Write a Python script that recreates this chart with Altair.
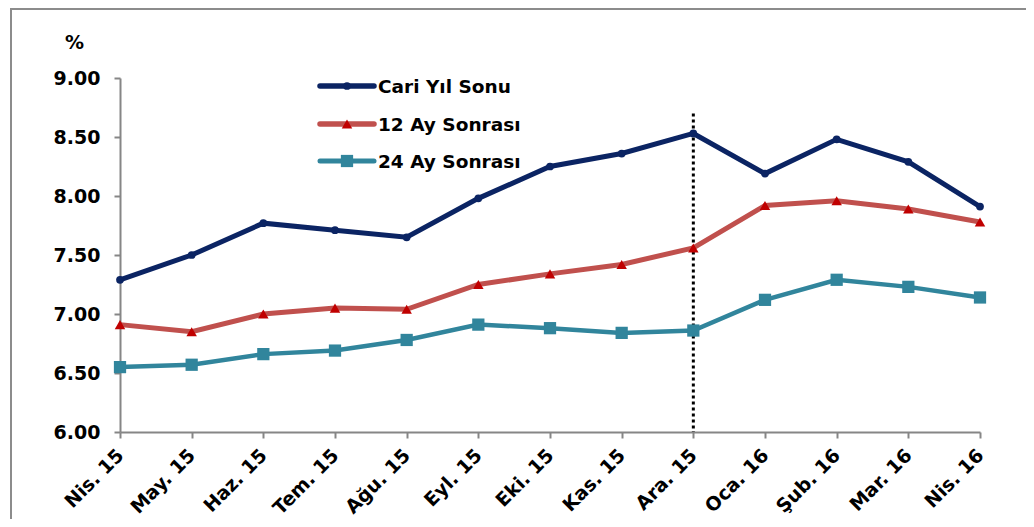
import altair as alt
import pandas as pd

months = ["Nis. 15", "May. 15", "Haz. 15", "Tem. 15", "Ağu. 15", "Eyl. 15", "Eki. 15",
          "Kas. 15", "Ara. 15", "Oca. 16", "Şub. 16", "Mar. 16", "Nis. 16"]
series = ["Cari Yıl Sonu", "12 Ay Sonrası", "24 Ay Sonrası"]
cari = [7.29, 7.50, 7.77, 7.71, 7.65, 7.98, 8.25, 8.36, 8.53, 8.19, 8.48, 8.29, 7.91]
ay12 = [6.91, 6.85, 7.00, 7.05, 7.04, 7.25, 7.34, 7.42, 7.56, 7.92, 7.96, 7.89, 7.78]
ay24 = [6.55, 6.57, 6.66, 6.69, 6.78, 6.91, 6.88, 6.84, 6.86, 7.12, 7.29, 7.23, 7.14]
line_colors = ["#0b2463", "#c0504d", "#31859c"]
marker_colors = ["#0b2463", "#c00000", "#31859c"]
shapes = ["circle", "triangle-up", "square"]
marker_sizes = [60, 110, 150]
line_widths = [5, 5, 4.5]
marker_line = "Ara. 15"
y_ticks = [6.0, 6.5, 7.0, 7.5, 8.0, 8.5, 9.0]

FONT = "DejaVu Sans"
W, H = 860, 354

frames = []
for s, vals in zip(series, [cari, ay12, ay24]):
    frames.append(pd.DataFrame({"Ay": months, "Deger": vals, "Seri": s}))
df = pd.concat(frames, ignore_index=True)

x_enc = alt.X("Ay:O", sort=months, scale=alt.Scale(type="point", padding=0),
              axis=alt.Axis(title=None, labelAngle=-45, labelFont=FONT, labelFontWeight="bold",
                            labelFontSize=19, labelColor="#000000", domainColor="#868686",
                            domainWidth=2, tickColor="#868686", tickWidth=2, tickSize=6,
                            labelPadding=14, labelAlign="right", labelBaseline="middle"))
y_scale = alt.Scale(domain=[6, 9], nice=False, zero=False)
y_enc = alt.Y("Deger:Q", scale=y_scale,
              axis=alt.Axis(values=y_ticks, format=".2f", title="%", titleAngle=0,
                            titleFont=FONT, titleFontWeight="bold", titleFontSize=19,
                            titleX=-46, titleY=-30, titleAlign="center", titleBaseline="alphabetic",
                            labelFont=FONT, labelFontWeight="bold", labelFontSize=19,
                            labelColor="#000000", labelPadding=14, domainColor="#868686",
                            domainWidth=2, tickColor="#868686", tickWidth=2, tickSize=6,
                            grid=False))

layers = []
for i, s in enumerate(series):
    d = df[df["Seri"] == s]
    base = alt.Chart(d).encode(x=x_enc, y=y_enc)
    layers.append(base.mark_line(color=line_colors[i], strokeWidth=line_widths[i]))
    layers.append(base.mark_point(shape=shapes[i], filled=True, opacity=1,
                                  color=marker_colors[i], size=marker_sizes[i]))

# vertical dotted line
vdf = pd.DataFrame({"Ay": [marker_line], "y1": [8.70], "y2": [6.0]})
vline = alt.Chart(vdf).mark_rule(color="#000000", strokeWidth=3, strokeDash=[3, 3]).encode(
    x=alt.X("Ay:O", sort=months, scale=alt.Scale(type="point", padding=0)),
    y=alt.Y("y1:Q", scale=y_scale), y2="y2:Q")

# manual legend
leg_y = [8, 46, 83]
leg = []
for i, s in enumerate(series):
    ldf = pd.DataFrame({"Seri": [s]})
    lb = alt.Chart(ldf)
    leg.append(lb.mark_rule(color=line_colors[i], strokeWidth=line_widths[i] + 0.5, strokeCap="round").encode(
        x=alt.value(200), x2=alt.value(254), y=alt.value(leg_y[i])))
    leg.append(lb.mark_point(shape=shapes[i], filled=True, opacity=1, color=marker_colors[i],
                             size=marker_sizes[i]).encode(x=alt.value(227), y=alt.value(leg_y[i])))
    leg.append(lb.mark_text(align="left", baseline="middle", font=FONT, fontWeight="bold",
                            fontSize=18.5, color="#000000").encode(
        x=alt.value(258), y=alt.value(leg_y[i] + 1), text="Seri:N"))

# outer frame (left and top edges)
fdf = pd.DataFrame({"k": [0]})
frame_l = alt.Chart(fdf).mark_rule(color="#8c8c8c", strokeWidth=2).encode(
    x=alt.value(-109), y=alt.value(-69), y2=alt.value(600))
frame_t = alt.Chart(fdf).mark_rule(color="#8c8c8c", strokeWidth=2).encode(
    x=alt.value(-110), x2=alt.value(1000), y=alt.value(-69))

chart = alt.layer(frame_l, frame_t, vline, *layers, *leg).properties(
    width=W, height=H,
    padding={"left": 112, "top": 70, "right": 46, "bottom": 87},
    autosize=alt.AutoSizeParams(type="none"),
).configure(background="#ffffff").configure_view(stroke=None)

chart.save("out.html", embed_options={"renderer": "svg", "actions": False})
